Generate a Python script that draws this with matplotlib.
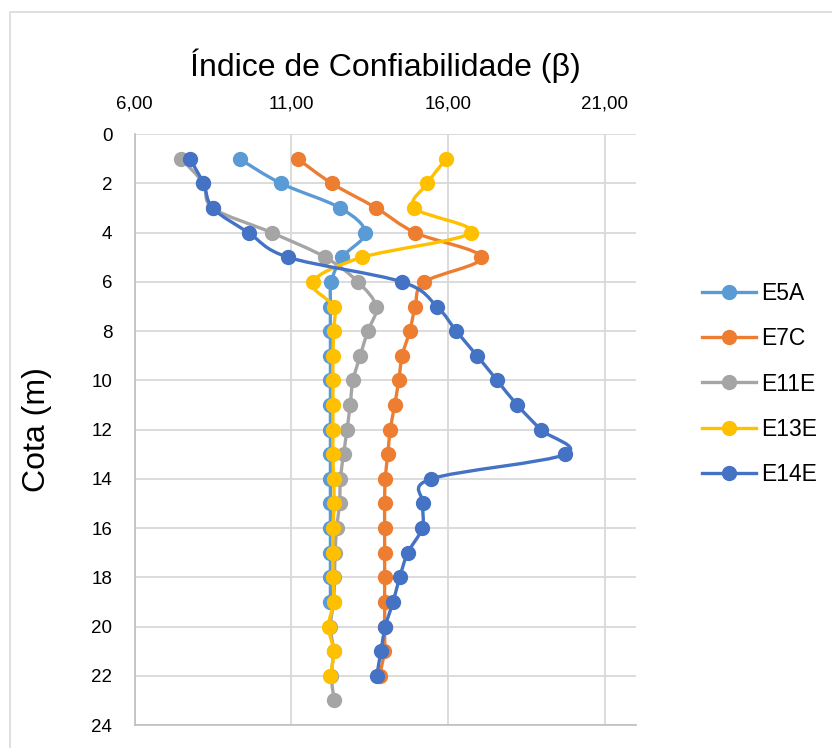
import matplotlib
matplotlib.use("Agg")
import matplotlib.pyplot as plt
from matplotlib.lines import Line2D
from matplotlib.patches import PathPatch, Rectangle
from matplotlib.path import Path
from matplotlib.ticker import FuncFormatter, MultipleLocator

# reliability index (beta) per elevation (m)
cota_e5a = list(range(1, 20))
beta_e5a = [9.35, 10.68, 12.57, 13.36, 12.62, 12.28, 12.25, 12.25, 12.25, 12.25,
            12.25, 12.25, 12.25, 12.25, 12.25, 12.25, 12.25, 12.25, 12.25]

cota_e7c = list(range(1, 23))
beta_e7c = [11.21, 12.30, 13.72, 14.96, 17.07, 15.25, 14.96, 14.78, 14.54, 14.43,
            14.30, 14.16, 14.08, 14.00, 13.98, 13.98, 13.98, 13.98, 13.98, 13.98,
            13.97, 13.82]

cota_e11e = list(range(1, 24))
beta_e11e = [7.49, 8.20, 8.50, 10.38, 12.09, 13.13, 13.71, 13.44, 13.20, 12.97,
             12.88, 12.78, 12.67, 12.57, 12.54, 12.45, 12.40, 12.38, 12.35, 12.25,
             12.35, 12.28, 12.37]

cota_e13e = list(range(1, 23))
beta_e13e = [15.94, 15.34, 14.93, 16.72, 13.26, 11.69, 12.35, 12.35, 12.33, 12.33,
             12.33, 12.33, 12.33, 12.35, 12.37, 12.33, 12.33, 12.33, 12.35, 12.19,
             12.35, 12.25]

cota_e14e = list(range(1, 23))
beta_e14e = [7.77, 8.20, 8.50, 9.64, 10.91, 14.54, 15.65, 16.27, 16.93, 17.57,
             18.21, 18.96, 19.75, 15.46, 15.21, 15.18, 14.72, 14.46, 14.25, 14.00,
             13.86, 13.73]

x_ticks = [6, 11, 16, 21]

series = [
    ("E5A", beta_e5a, cota_e5a, "#5B9BD5"),
    ("E7C", beta_e7c, cota_e7c, "#ED7D31"),
    ("E11E", beta_e11e, cota_e11e, "#A5A5A5"),
    ("E13E", beta_e13e, cota_e13e, "#FFC000"),
    ("E14E", beta_e14e, cota_e14e, "#4472C4"),
]


def smooth_path(xs, ys):
    # excel-like smoothed line: catmull-rom converted to cubic bezier
    pts = list(zip(xs, ys))
    verts = [pts[0]]
    codes = [Path.MOVETO]
    n = len(pts)
    for i in range(n - 1):
        p0 = pts[i - 1] if i > 0 else pts[i]
        p1 = pts[i]
        p2 = pts[i + 1]
        p3 = pts[i + 2] if i + 2 < n else pts[i + 1]
        c1 = (p1[0] + (p2[0] - p0[0]) / 6, p1[1] + (p2[1] - p0[1]) / 6)
        c2 = (p2[0] - (p3[0] - p1[0]) / 6, p2[1] - (p3[1] - p1[1]) / 6)
        verts += [c1, c2, p2]
        codes += [Path.CURVE4] * 3
    return Path(verts, codes)


plt.rcParams["font.family"] = ["Liberation Sans", "DejaVu Sans"]

fig = plt.figure(figsize=(8.32, 7.48), dpi=100)
# chart area border (only left and top edges show in the crop)
fig.patches.append(Rectangle((10 / 832, -0.1), 1.2, 1.1 - 12 / 748,
                             transform=fig.transFigure, fill=False,
                             edgecolor="#D9D9D9", linewidth=1.2))

ax = fig.add_axes([0.1617, 0.0307, 0.6027, 0.7898])

handles = []
for name, xs, ys, color in series:
    ax.add_patch(PathPatch(smooth_path(xs, ys), facecolor="none",
                           edgecolor=color, linewidth=2.4, zorder=3,
                           capstyle="round", joinstyle="round"))
    ax.plot(xs, ys, linestyle="none", marker="o", markersize=10,
            color=color, zorder=3)
    handles.append(Line2D([], [], color=color, linewidth=2.4, marker="o",
                          markersize=10, label=name))

ax.set_xlim(6, 22)
ax.set_ylim(24, 0)
ax.set_xticks(x_ticks)
ax.xaxis.set_major_formatter(FuncFormatter(lambda v, p: f"{v:.2f}".replace(".", ",")))
ax.yaxis.set_major_locator(MultipleLocator(2))
ax.xaxis.tick_top()
ax.tick_params(axis="x", length=0, pad=15.5, labelsize=13.5)
ax.tick_params(axis="y", length=0, pad=16, labelsize=13.5)

ax.grid(True, color="#D9D9D9", linewidth=1.3)
ax.set_axisbelow(True)
for side in ["top", "right"]:
    ax.spines[side].set_visible(False)
for side in ["left", "bottom"]:
    ax.spines[side].set_color("#BFBFBF")
    ax.spines[side].set_linewidth(1.2)

fig.text(385 / 832, 1 - 66 / 748, "Índice de Confiabilidade (β)",
         ha="center", va="center", fontsize=23)
fig.text(37 / 832, 1 - 430 / 748, "Cota (m)", ha="center", va="center",
         rotation=90, fontsize=23)

fig.legend(handles=handles, loc="center left",
           bbox_to_anchor=(702 / 832, 1 - 384 / 748), frameon=False,
           borderaxespad=0, borderpad=0,
           fontsize=16.5, handlelength=2.36, labelspacing=0.98,
           handletextpad=0.22)

fig.savefig("out.png", dpi=100)
